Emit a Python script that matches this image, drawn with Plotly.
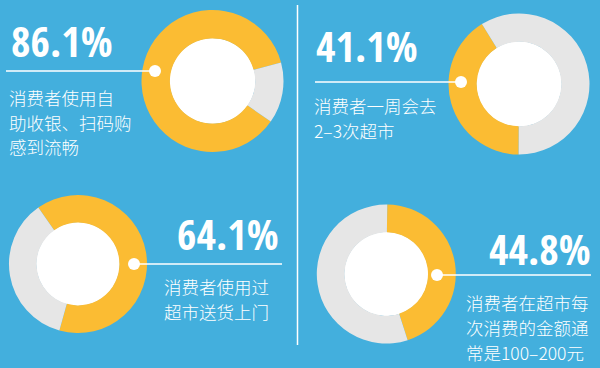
import plotly.graph_objects as go

W, H = 600, 368

# Data
percent_values = [86.1, 41.1, 64.1, 44.8]
percent_labels = ["86.1%", "41.1%", "64.1%", "44.8%"]
descriptions = [
    ["消费者使用自", "助收银、扫码购", "感到流畅"],
    ["消费者一周会去", "2–3次超市"],
    ["消费者使用过", "超市送货上门"],
    ["消费者在超市每", "次消费的金额通", "常是100–200元"],
]
slice_names = ["是", "其他"]

# Styles
BLUE = "#43AFDD"
GOLD = "#FBBC33"
GRAY = "#E6E6E6"
WHITE = "#FFFFFF"

panels = [
    dict(cx=212.5, cy=81, r=71, rot=124.9,
         num=(9, 40, "left"), txt=(7, 97), line=(6, 155, 71)),
    dict(cx=519, cy=84, r=70.5, rot=180.3,
         num=(314, 45, "left"), txt=(312, 105), line=(315, 461, 82)),
    dict(cx=78, cy=264, r=69, rot=324.9,
         num=(281, 233, "right"), txt=(162, 286), line=(134, 282, 264)),
    dict(cx=386.3, cy=274, r=69.5, rot=0.8,
         num=(593, 248, "right"), txt=(464, 302), line=(437, 591, 275)),
]

def px(x):
    return x / W

def py(y):
    return 1 - y / H

fig = go.Figure()
shapes = []
annotations = []
HOLE = 0.6

for i, p in enumerate(panels):
    v = percent_values[i]
    fig.add_trace(go.Pie(
        values=[v, round(100 - v, 1)],
        labels=slice_names,
        marker=dict(colors=[GOLD, GRAY], line=dict(width=0)),
        hole=HOLE,
        sort=False,
        direction="clockwise",
        rotation=p["rot"],
        textinfo="none",
        hoverinfo="label+percent",
        showlegend=False,
        domain=dict(x=[px(p["cx"] - p["r"]), px(p["cx"] + p["r"])],
                    y=[py(p["cy"] + p["r"]), py(p["cy"] - p["r"])]),
    ))
    ri = p["r"] * HOLE + 0.5
    shapes.append(dict(type="circle", xref="paper", yref="paper", layer="below",
                       x0=px(p["cx"] - ri), x1=px(p["cx"] + ri),
                       y0=py(p["cy"] + ri), y1=py(p["cy"] - ri),
                       fillcolor=WHITE, line=dict(width=0)))
    x0, x1, ly = p["line"]
    shapes.append(dict(type="line", xref="paper", yref="paper", layer="above",
                       x0=px(x0), x1=px(x1), y0=py(ly), y1=py(ly),
                       line=dict(color=WHITE, width=1.6)))
    dx = x1 if p["num"][2] == "left" else x0
    dr = 6
    shapes.append(dict(type="circle", xref="paper", yref="paper", layer="above",
                       x0=px(dx - dr), x1=px(dx + dr), y0=py(ly + dr), y1=py(ly - dr),
                       fillcolor=WHITE, line=dict(width=0)))
    nx, ny, anchor = p["num"]
    annotations.append(dict(text=percent_labels[i], xref="paper", yref="paper",
                            x=px(nx), y=py(ny), xanchor=anchor, yanchor="middle",
                            showarrow=False,
                            font=dict(family="Open Sans Condensed, DejaVu Sans Condensed, sans-serif",
                                      size=42, weight=800, color=WHITE)))
    tx, ty = p["txt"]
    for j, line in enumerate(descriptions[i]):
        annotations.append(dict(text=line, xref="paper", yref="paper",
                                x=px(tx), y=py(ty + 25 * j), xanchor="left", yanchor="middle",
                                showarrow=False,
                                font=dict(family="Noto Sans CJK SC, sans-serif",
                                          size=17.5, weight=300, color=WHITE)))

# vertical divider
shapes.append(dict(type="line", xref="paper", yref="paper", layer="above",
                   x0=px(297.5), x1=px(297.5), y0=py(5), y1=py(345),
                   line=dict(color=WHITE, width=1.5)))

fig.update_layout(width=W, height=H, margin=dict(l=0, r=0, t=0, b=0),
                  paper_bgcolor=BLUE, plot_bgcolor=BLUE,
                  shapes=shapes, annotations=annotations, showlegend=False)

fig.write_html("out.html", config=dict(displayModeBar=False),
               post_script="document.body.style.margin='0';")
